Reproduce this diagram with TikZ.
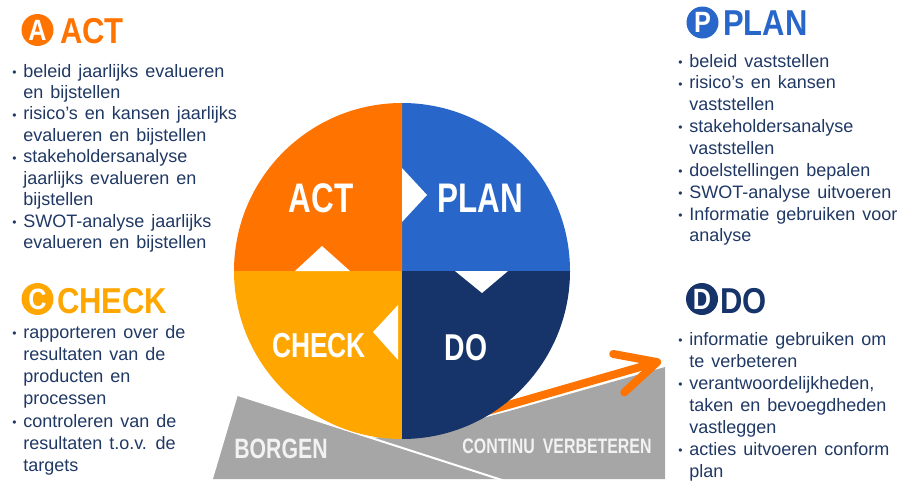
\documentclass[tikz,border=0pt]{standalone}
\usepackage{fontspec}
\setmainfont[WordSpace=1.4]{Liberation Sans}
\newfontfamily\ringfont[FakeStretch=0.76]{Liberation Sans}
\newfontfamily\headfont[FakeStretch=0.86]{Liberation Sans}
\usetikzlibrary{arrows.meta}

\definecolor{actorange}{RGB}{255,115,0}
\definecolor{planblue}{RGB}{40,103,201}
\definecolor{checkamber}{RGB}{255,166,0}
\definecolor{donavy}{RGB}{22,52,105}
\definecolor{listnavy}{RGB}{31,56,100}
\definecolor{basegrey}{RGB}{166,166,166}
\definecolor{basetext}{RGB}{242,242,242}

% small bullet in a fixed column
\newcommand{\bul}{\makebox[8.25pt][l]{\raisebox{0.6pt}{\fontsize{9}{9}\selectfont\textbullet}}}

\begin{document}
\begin{tikzpicture}[x=0.75pt,y=0.75pt,yscale=-1,xscale=1,
  itemlist/.style={font=\fontsize{13.5}{#1}\selectfont, text=listnavy, inner sep=0pt, anchor=base west},
  icon/.style={inner sep=0pt, text=white, font=\headfont\bfseries\fontsize{22}{22}\selectfont},
  heading/.style={text=#1, inner sep=0pt, anchor=base west, font=\headfont\bfseries\fontsize{27}{27}\selectfont},
  ringlabel/.style={font=\ringfont\bfseries\fontsize{#1}{#1}\selectfont, text=white, inner sep=0pt, anchor=base},
  baselabel/.style={font=\ringfont\bfseries\fontsize{#1}{#1}\selectfont, text=basetext, inner sep=0pt, anchor=base},
  growth/.style={draw=actorange, line width=6pt, line cap=round, -{Straight Barb[length=30pt,width=30pt,round]}}]
\useasboundingbox (0,0) rectangle (903,482);
%uncomment if require: \path (0,482);
%Shape: Polygon (left base)
\fill[basegrey] (238,395) -- (213,479) -- (500,479) -- cycle ;
%Shape: Polygon (right base)
\fill[basegrey] (372,438) -- (500,479) -- (665,479) -- (665,367) -- (513,410) -- (430,432) -- cycle ;
%Straight Lines (seam between the bases)
\draw[white, line width=1.5pt] (238,395) -- (505,481) ;
%Straight Lines with arrow
\coordinate (rise) at (470,416);
\coordinate (aim) at (661,361);
\draw[growth] (rise) -- (aim) ;
%Shape: Circle in four quarters
\coordinate (hub) at (402,271);
\fill[planblue] (hub) -- ++(168,0) arc (0:-90:168) -- cycle ;
\fill[actorange] (hub) -- ++(0,-168) arc (-90:-180:168) -- cycle ;
\fill[checkamber] (hub) -- ++(-168,0) arc (180:90:168) -- cycle ;
\fill[donavy] (hub) -- ++(0,168) arc (90:0:168) -- cycle ;
%Shape: Triangles
\fill[white] (402,168) -- (427,195) -- (402,222) -- cycle ;
\fill[white] (455,271) -- (508,271) -- (482,293) -- cycle ;
\fill[white] (295,271) -- (350,271) -- (322,246) -- cycle ;
\fill[white] (398,305) -- (373,332) -- (398,360) -- cycle ;
% Text Node
\draw (321,212) node (actring) [ringlabel=31] {ACT};
% Text Node
\draw (480,212) node (planring) [ringlabel=31] {PLAN};
% Text Node
\draw (319,357) node (checkring) [ringlabel=26] {CHECK};
% Text Node
\draw (466,360) node (doring) [ringlabel=28] {DO};
% Text Node
\draw (281,458) node (borgen) [baselabel=21] {BORGEN};
% Text Node
\draw (557,453) node (verbeteren) [baselabel=15.7] {CONTINU\hspace{6pt}VERBETEREN};
%Shape: Circle + Text Node
\fill[actorange] (37.5,30) circle (16) ;
\draw (37.5,30) node (acticon) [icon] {A};
\draw (60,43) node (acthead) [heading=actorange] {ACT};
\draw (12,77) node (actlist) [itemlist=16.1] {\begin{tabular}[t]{@{}l@{}l@{}}
\bul & beleid jaarlijks evalueren\\
 & en bijstellen\\
\bul & risico's en kansen jaarlijks\\
 & evalueren en bijstellen\\
\bul & stakeholdersanalyse\\
 & jaarlijks evalueren en\\
 & bijstellen\\
\bul & SWOT-analyse jaarlijks\\
 & evalueren en bijstellen
\end{tabular}};
%Shape: Circle + Text Node
\fill[checkamber] (37.5,299) circle (16) ;
\draw (37.5,299) node (checkicon) [icon] {C};
\draw (57,313) node (checkhead) [heading=checkamber] {CHECK};
\draw (12,338) node (checklist) [itemlist=16.7] {\begin{tabular}[t]{@{}l@{}l@{}}
\bul & rapporteren over de\\
 & resultaten van de\\
 & producten en\\
 & processen\\
\bul & controleren van de\\
 & resultaten t.o.v. de\\
 & targets
\end{tabular}};
%Shape: Circle + Text Node
\fill[planblue] (702.5,22.5) circle (16) ;
\draw (702.5,22.5) node (planicon) [icon] {P};
\draw (723,35) node (planhead) [heading=planblue] {PLAN};
\draw (678,67) node (planlist) [itemlist=16.4] {\begin{tabular}[t]{@{}l@{}l@{}}
\bul & beleid vaststellen\\
\bul & risico's en kansen\\
 & vaststellen\\
\bul & stakeholdersanalyse\\
 & vaststellen\\
\bul & doelstellingen bepalen\\
\bul & SWOT-analyse uitvoeren\\
\bul & Informatie gebruiken voor\\
 & analyse
\end{tabular}};
%Shape: Circle + Text Node
\fill[donavy] (702,299) circle (16) ;
\draw (702,299) node (doicon) [icon] {D};
\draw (720,313) node (dohead) [heading=donavy] {DO};
\draw (678,345) node (dolist) [itemlist=16.5] {\begin{tabular}[t]{@{}l@{}l@{}}
\bul & informatie gebruiken om\\
 & te verbeteren\\
\bul & verantwoordelijkheden,\\
 & taken en bevoegdheden\\
 & vastleggen\\
\bul & acties uitvoeren conform\\
 & plan
\end{tabular}};
\end{tikzpicture}
\end{document}
